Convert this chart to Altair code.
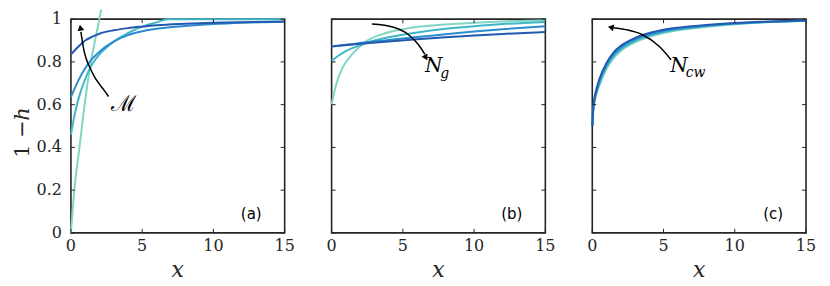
import altair as alt
import pandas as pd

W, H = 214, 214
X_TICKS = [0, 5, 10, 15]
X_LABELS = ["0", "5", "10", "15"]
Y_TICKS = [0, 0.2, 0.4, 0.6, 0.8, 1.0]
Y_LABELS = ["0", "0.2", "0.4", "0.6", "0.8", "1"]
SERIES = ["s1", "s2", "s3", "s4"]
COLORS = ["#80d6c4", "#3fb7c8", "#2a8ccf", "#2459b0"]
INK = "#262626"
SERIF = "DejaVu Serif"

# ---- panel (a): varying M ----
A1_X = [0, 0.27, 0.6, 1.0, 1.35, 1.6, 1.8, 2.0, 2.12]
A1_Y = [0, 0.22, 0.4, 0.62, 0.78, 0.87, 0.935, 1.0, 1.045]
A2_X = [0, 0.25, 0.5, 1, 1.5, 2, 3, 4, 5, 6, 6.8, 8, 10, 12, 15]
A2_Y = [0.46, 0.55, 0.62, 0.72, 0.79, 0.835, 0.895, 0.935, 0.965, 0.985, 1.0, 1.0, 1.0, 1.0, 1.0]
A3_X = [0, 0.5, 1, 1.5, 2, 3, 4, 5, 6, 8, 10, 12, 15]
A3_Y = [0.635, 0.71, 0.77, 0.815, 0.848, 0.895, 0.925, 0.943, 0.955, 0.968, 0.977, 0.983, 0.988]
A4_X = [0, 0.5, 1, 1.5, 2, 3, 4, 5, 6, 8, 10, 12, 15]
A4_Y = [0.835, 0.87, 0.9, 0.918, 0.932, 0.948, 0.958, 0.965, 0.971, 0.978, 0.983, 0.986, 0.989]

# ---- panel (b): varying N_g ----
B1_X = [0, 0.3, 0.75, 1.5, 2.4, 3.8, 5.4, 7.3, 10, 12, 15]
B1_Y = [0.6, 0.69, 0.77, 0.84, 0.895, 0.935, 0.958, 0.972, 0.983, 0.989, 0.995]
B2_X = [0, 0.5, 1, 2, 3, 4, 6, 8, 10, 12, 15]
B2_Y = [0.805, 0.83, 0.85, 0.878, 0.9, 0.915, 0.938, 0.955, 0.967, 0.977, 0.987]
B3_X = [0, 1, 2, 4, 6, 8, 10, 12, 15]
B3_Y = [0.873, 0.88, 0.888, 0.902, 0.916, 0.929, 0.942, 0.953, 0.967]
B4_X = [0, 2, 4, 6, 8, 10, 12, 15]
B4_Y = [0.872, 0.885, 0.896, 0.906, 0.915, 0.923, 0.931, 0.94]

# ---- panel (c): varying N_cw ----
C_X = [0, 0.05, 0.15, 0.3, 0.5, 1, 1.5, 2, 3, 4, 5, 6, 8, 10, 12, 15]
C1_Y = [0.5, 0.555, 0.61, 0.65, 0.69, 0.768, 0.818, 0.851, 0.891, 0.917, 0.935, 0.948, 0.964, 0.976, 0.985, 0.993]
C2_Y = [0.5, 0.56, 0.617, 0.658, 0.70, 0.777, 0.827, 0.859, 0.898, 0.923, 0.94, 0.952, 0.967, 0.978, 0.986, 0.993]
C3_Y = [0.5, 0.565, 0.624, 0.666, 0.71, 0.786, 0.836, 0.867, 0.905, 0.929, 0.945, 0.956, 0.97, 0.98, 0.987, 0.993]
C4_Y = [0.5, 0.57, 0.63, 0.674, 0.72, 0.795, 0.845, 0.875, 0.912, 0.935, 0.95, 0.96, 0.973, 0.982, 0.988, 0.994]

# ---- annotations ----
ARROW_A_X = [2.64, 2.40, 1.46, 0.88, 0.70]
ARROW_A_Y = [0.638, 0.661, 0.755, 0.866, 0.94]
HEAD_A = (0.665, 0.96, 350)
ARROW_B_X = [2.83, 4.35, 5.40, 6.10, 6.55]
ARROW_B_Y = [0.977, 0.962, 0.927, 0.880, 0.835]
HEAD_B = (6.62, 0.82, 150)
ARROW_C_X = [5.53, 4.71, 3.52, 2.35, 1.5]
ARROW_C_Y = [0.810, 0.872, 0.927, 0.951, 0.960]
HEAD_C = (1.3, 0.962, 282)

LABEL_A = [("ℳ", 3.69, 0.603, 22, "normal")]
LABEL_B = [("N", 7.17, 0.78, 20, "italic"), ("g", 7.94, 0.742, 14, "italic")]
LABEL_C = [("N", 6.09, 0.78, 20, "italic"), ("cw", 7.25, 0.748, 14, "italic")]
TAGS = ["(a)", "(b)", "(c)"]
X_TITLE = "x"
Y_TITLE_PARTS = [("1 −", "normal", 24), ("h", "italic", -1)]


def long(series_list):
    rows = []
    for s, xs_, ys_ in series_list:
        for x, y in zip(xs_, ys_):
            rows.append({"x": x, "y": y, "s": s})
    return pd.DataFrame(rows)


xs = alt.Scale(domain=[0, 15], nice=False, zero=False)
ys = alt.Scale(domain=[0, 1], nice=False, zero=False)


def X(f):
    return alt.X(f, scale=xs, axis=None)


def Y(f):
    return alt.Y(f, scale=ys, axis=None)


def panel(df, ax, ay, head, labels, tag, show_y):
    lines = alt.Chart(df).mark_line(strokeWidth=2, interpolate="monotone", clip=False).encode(
        x=X("x:Q"), y=Y("y:Q"),
        color=alt.Color("s:N", scale=alt.Scale(domain=SERIES, range=COLORS), legend=None),
    )
    arrow = alt.Chart(pd.DataFrame({"x": ax, "y": ay})).mark_line(
        color="black", strokeWidth=1.5, interpolate="monotone").encode(x=X("x:Q"), y=Y("y:Q"))
    hd = alt.Chart(pd.DataFrame({"x": [head[0]], "y": [head[1]]})).mark_point(
        shape="triangle-up", filled=True, size=45, color="black", opacity=1,
        angle=head[2]).encode(x=X("x:Q"), y=Y("y:Q"))
    layers = [lines]
    xt = pd.DataFrame({"t": X_TICKS, "lab": X_LABELS})
    yt = pd.DataFrame({"t": Y_TICKS, "lab": Y_LABELS})
    tick_kw = dict(color=INK, strokeWidth=1)
    layers.append(alt.Chart(xt).mark_rule(**tick_kw).encode(
        x=X("t:Q"), y=alt.value(H), y2=alt.value(H - 4)))
    layers.append(alt.Chart(xt).mark_rule(**tick_kw).encode(
        x=X("t:Q"), y=alt.value(0), y2=alt.value(4)))
    layers.append(alt.Chart(yt).mark_rule(**tick_kw).encode(
        y=Y("t:Q"), x=alt.value(0), x2=alt.value(4)))
    layers.append(alt.Chart(yt).mark_rule(**tick_kw).encode(
        y=Y("t:Q"), x=alt.value(W), x2=alt.value(W - 4)))
    # x tick labels and title
    layers.append(alt.Chart(xt).mark_text(
        font=SERIF, fontSize=16, color=INK, align="center", baseline="middle").encode(
        x=X("t:Q"), y=alt.value(H + 13), text="lab:N"))
    layers.append(alt.Chart(pd.DataFrame({"t": [X_TITLE]})).mark_text(
        font=SERIF, fontSize=22, fontStyle="italic", color=INK, align="center",
        baseline="middle").encode(x=alt.value(W / 2), y=alt.value(H + 37), text="t:N"))
    if show_y:
        layers.append(alt.Chart(yt).mark_text(
            font=SERIF, fontSize=16, color=INK, align="right", baseline="middle").encode(
            y=Y("t:Q"), x=alt.value(-9), text="lab:N"))
        for txt, st, off in Y_TITLE_PARTS:
            layers.append(alt.Chart(pd.DataFrame({"t": [txt]})).mark_text(
                font=SERIF, fontSize=21, fontStyle=st, color=INK, align="center",
                baseline="middle", angle=270).encode(
                x=alt.value(-48), y=alt.value(H / 2 + off - 11), text="t:N"))
    layers += [arrow, hd]
    for t, x, y, fs, st in labels:
        layers.append(alt.Chart(pd.DataFrame({"x": [x], "y": [y], "t": [t]})).mark_text(
            font=SERIF, fontSize=fs, fontStyle=st, color="black",
            align="center", baseline="middle").encode(x=X("x:Q"), y=Y("y:Q"), text="t:N"))
    layers.append(alt.Chart(pd.DataFrame({"t": [tag]})).mark_text(
        font="DejaVu Sans", fontSize=15, color="black", align="right",
        baseline="bottom").encode(x=alt.value(W - 23), y=alt.value(H - 11), text="t:N"))
    return alt.layer(*layers).properties(width=W, height=H)


dfa = long([("s1", A1_X, A1_Y), ("s2", A2_X, A2_Y), ("s3", A3_X, A3_Y), ("s4", A4_X, A4_Y)])
dfb = long([("s1", B1_X, B1_Y), ("s2", B2_X, B2_Y), ("s3", B3_X, B3_Y), ("s4", B4_X, B4_Y)])
dfc = long([("s1", C_X, C1_Y), ("s2", C_X, C2_Y), ("s3", C_X, C3_Y), ("s4", C_X, C4_Y)])

pa = panel(dfa, ARROW_A_X, ARROW_A_Y, HEAD_A, LABEL_A, TAGS[0], True)
pb = panel(dfb, ARROW_B_X, ARROW_B_Y, HEAD_B, LABEL_B, TAGS[1], False)
pc = panel(dfc, ARROW_C_X, ARROW_C_Y, HEAD_C, LABEL_C, TAGS[2], False)

chart = alt.hconcat(pa, pb, pc, spacing=47, bounds="flush").properties(
    padding={"left": 3, "top": -4, "right": 5, "bottom": 0}
).configure_view(stroke=INK, strokeWidth=1.6)

chart.save("out.html", embed_options={"renderer": "svg", "actions": False})
